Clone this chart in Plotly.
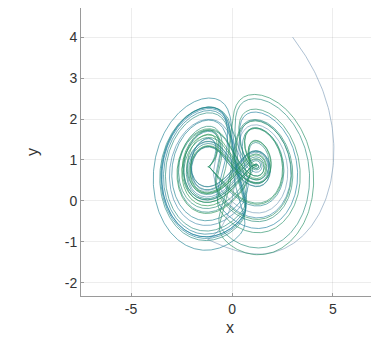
import numpy as np
import plotly.graph_objects as go

# Finance-type chaotic system (slow y), trajectory drawn as a parametric curve
PARAMS = {"a": 0.00001, "b": 0.1, "c": 1.0, "e": 0.4}
X_DISPLAY_SCALE = 1.25
Y_DISPLAY = {"center_in": 0.75, "center_out": 0.85, "scale": 1.25}
INITIAL_STATE = [2.4, 3.27, -4.8]
T_END = 400.0
DT = 0.005
X_TICKS = [-5, 0, 5]
X_LABELS = ["-5", "0", "5"]
Y_TICKS = [-2, -1, 0, 1, 2, 3, 4]
Y_LABELS = ["-2", "-1", "0", "1", "2", "3", "4"]
COLOR_START = (130, 160, 188)
COLOR_MID = (32, 128, 160)
COLOR_END = (42, 150, 82)
MID_POS = 0.2


def rhs(s):
    x, y, z = s
    a, b, c, e = PARAMS["a"], PARAMS["b"], PARAMS["c"], PARAMS["e"]
    return np.array([z + (y - a) * x, e * (1 - b * y - x * x), -x - c * z])


def integrate():
    n = int(T_END / DT)
    out = np.empty((n + 1, 3))
    s = np.array(INITIAL_STATE, dtype=float)
    out[0] = s
    for i in range(n):
        k1 = rhs(s)
        k2 = rhs(s + 0.5 * DT * k1)
        k3 = rhs(s + 0.5 * DT * k2)
        k4 = rhs(s + DT * k3)
        s = s + DT / 6 * (k1 + 2 * k2 + 2 * k3 + k4)
        out[i + 1] = s
    return out


traj = integrate()
xs = traj[::2, 0] * X_DISPLAY_SCALE
ys = Y_DISPLAY["center_out"] + (traj[::2, 1] - Y_DISPLAY["center_in"]) * Y_DISPLAY["scale"]


def lerp(c1, c2, f):
    return tuple(int(round(c1[i] + (c2[i] - c1[i]) * f)) for i in range(3))


fig = go.Figure()
n_chunks = 90
N = len(xs)
for k in range(n_chunks):
    i0 = k * N // n_chunks
    i1 = min(N, (k + 1) * N // n_chunks + 1)
    f = k / (n_chunks - 1)
    if f < MID_POS:
        col = lerp(COLOR_START, COLOR_MID, f / MID_POS)
    else:
        col = lerp(COLOR_MID, COLOR_END, (f - MID_POS) / (1 - MID_POS))
    fig.add_trace(go.Scatter(
        x=xs[i0:i1], y=ys[i0:i1], mode="lines",
        line=dict(color="rgba(%d,%d,%d,0.65)" % col, width=1),
        hoverinfo="skip", showlegend=False))

axis_common = dict(
    showgrid=True, gridcolor="rgba(0,0,0,0.07)", gridwidth=1,
    zeroline=False, showline=True, linecolor="#9a9a9a", linewidth=1,
    ticks="inside", ticklen=3, tickcolor="#9a9a9a", automargin=False,
    tickfont=dict(family="Liberation Sans, Arial, sans-serif", size=14, color="#333"),
    title_font=dict(family="Liberation Sans, Arial, sans-serif", size=16, color="#333"),
)
fig.update_layout(
    width=371, height=344,
    margin=dict(l=73, r=0, t=0, b=56),
    plot_bgcolor="white", paper_bgcolor="white",
    xaxis=dict(range=[-7.48, 7.28], tickvals=X_TICKS, ticktext=X_LABELS,
               title=dict(text="x", standoff=6), **axis_common),
    yaxis=dict(range=[-2.32, 4.71], tickvals=Y_TICKS, ticktext=Y_LABELS,
               title=dict(text="y", standoff=22), **axis_common),
)
fig.write_html("out.html")
